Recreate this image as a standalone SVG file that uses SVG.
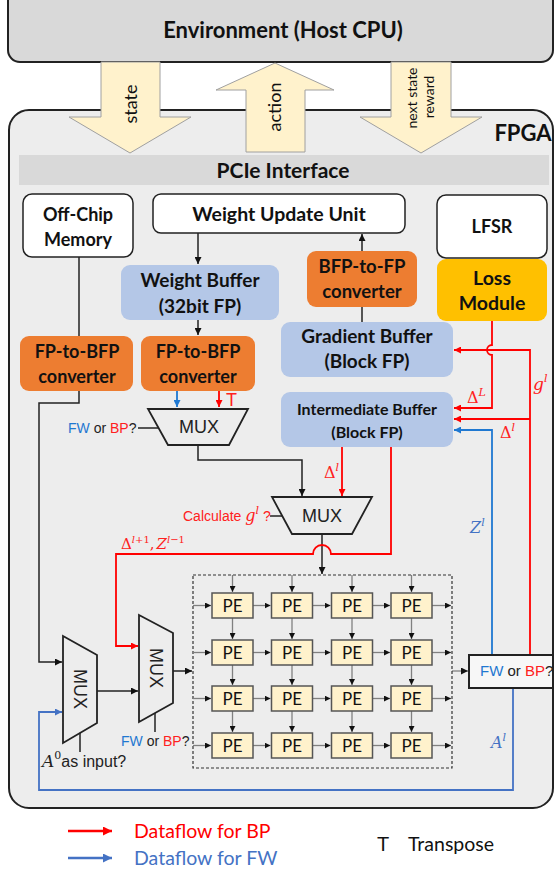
<svg xmlns="http://www.w3.org/2000/svg" width="554" height="873" viewBox="0 0 554 873">
<style>
.b{font-family:Lato,"Liberation Sans",sans-serif;font-weight:bold;fill:#111;text-anchor:middle}
.c{font-family:Lato,"Liberation Sans",sans-serif;fill:#111}
.a{font-family:"Liberation Sans",Arial,sans-serif;fill:#222}
.m{font-family:"DejaVu Serif","Liberation Serif",serif;font-style:italic}
.u{font-family:"DejaVu Serif","Liberation Serif",serif;font-style:normal}
.bk{fill:none;stroke:#222;stroke-width:1.5}
.rd{fill:none;stroke:#ff0000;stroke-width:1.8}
.bl{fill:none;stroke:#1f78d1;stroke-width:1.8}
.bl2{fill:none;stroke:#4472c4;stroke-width:1.8}
.gr{fill:none;stroke:#808080;stroke-width:1.3}
.mux{fill:none;stroke:#222;stroke-width:1.8}
.pe{fill:#fff2cc;stroke:#555;stroke-width:1.5}
.big{fill:#fff2cc;stroke:#a0a0a0;stroke-width:1}
.R{fill:#ff2020}.B{fill:#1f78d1}
</style>
<defs>
<marker id="ak" viewBox="0 0 8 8" refX="8" refY="4" markerWidth="7" markerHeight="7" markerUnits="userSpaceOnUse" orient="auto"><path d="M0,0L8,4L0,8z" fill="#111"/></marker>
<marker id="ar" viewBox="0 0 8 8" refX="8" refY="4" markerWidth="7" markerHeight="7" markerUnits="userSpaceOnUse" orient="auto"><path d="M0,0L8,4L0,8z" fill="#ff0000"/></marker>
<marker id="ab" viewBox="0 0 8 8" refX="8" refY="4" markerWidth="7" markerHeight="7" markerUnits="userSpaceOnUse" orient="auto"><path d="M0,0L8,4L0,8z" fill="#1f78d1"/></marker>
<marker id="ab2" viewBox="0 0 8 8" refX="8" refY="4" markerWidth="7" markerHeight="7" markerUnits="userSpaceOnUse" orient="auto"><path d="M0,0L8,4L0,8z" fill="#4472c4"/></marker>
<marker id="ag" viewBox="0 0 8 8" refX="8" refY="4" markerWidth="6" markerHeight="6" markerUnits="userSpaceOnUse" orient="auto"><path d="M0,0L8,4L0,8z" fill="#111"/></marker>
<marker id="lr" viewBox="0 0 8 8" refX="8" refY="4" markerWidth="9" markerHeight="9" markerUnits="userSpaceOnUse" orient="auto"><path d="M0,0L8,4L0,8z" fill="#ff0000"/></marker>
<marker id="lb" viewBox="0 0 8 8" refX="8" refY="4" markerWidth="9" markerHeight="9" markerUnits="userSpaceOnUse" orient="auto"><path d="M0,0L8,4L0,8z" fill="#4472c4"/></marker>
</defs>
<rect width="554" height="873" fill="#ffffff"/>

<g id="env">
<rect x="8" y="-20" width="545" height="82" rx="12" fill="#d9d9d9" stroke="#222" stroke-width="2"/>
<text class="b" x="283" y="38" font-size="22">Environment (Host CPU)</text>
</g>

<g id="fpga">
<rect x="9" y="110" width="544" height="698" rx="20" fill="#ededed" stroke="#222" stroke-width="2"/>
<text class="b" x="523" y="141" font-size="22">FPGA</text>
</g>

<g id="arrow-state">
<path class="big" d="M101,62H160V117H191L130,153L69,117H101Z"/>
<text class="c" font-size="18" text-anchor="middle" transform="translate(137,104) rotate(-90)">state</text>
</g>
<g id="arrow-action">
<path class="big" d="M246,152V90H216L275,63L334,90H305V152Z"/>
<text class="c" font-size="18" text-anchor="middle" transform="translate(281,107) rotate(-90)">action</text>
</g>
<g id="arrow-next">
<path class="big" d="M391,62H451V117H482L421,153L360,117H391Z"/>
<text class="c" font-size="14" text-anchor="middle" transform="translate(417,98) rotate(-90)">next state</text>
<text class="c" font-size="14" text-anchor="middle" transform="translate(434,97) rotate(-90)">reward</text>
</g>

<g id="pcie">
<rect x="19" y="155" width="530" height="30" fill="#d9d9d9"/>
<text class="b" x="283" y="178" font-size="21">PCIe Interface</text>
</g>

<g id="connectors">
<path class="bk" d="M79,257V336"/>
<path class="bk" d="M79,391V403H39V662H62" marker-end="url(#ak)"/>
<path class="bk" d="M198,233V264" marker-end="url(#ak)"/>
<path class="bk" d="M198,320V335" marker-end="url(#ak)"/>
<path class="bk" d="M362,322V234" marker-end="url(#ak)"/>
<path class="bk" d="M138,428H159"/>
<path class="bk" d="M198,445V460H302V496" marker-end="url(#ak)"/>
<path class="bk" d="M270,516H282"/>
<path class="bk" d="M322,534V574" marker-end="url(#ak)"/>
<path class="bk" d="M97,691H138" marker-end="url(#ak)"/>
<path class="bk" d="M173,671H192" marker-end="url(#ak)"/>
<path class="bk" d="M155,713V732"/>
<path class="bk" d="M80,733V752"/>
<path class="gr" d="M452,671H468" marker-end="url(#ak)"/>
<path class="bl" d="M177,391V407" marker-end="url(#ab)"/>
<path class="rd" d="M219,391V407" marker-end="url(#ar)"/>
<path class="rd" d="M342,447V496" marker-end="url(#ar)"/>
<path class="rd" d="M391,447V554H331A9,9 0 0 0 313,554H116V646H138" marker-end="url(#ar)"/>
<path class="rd" d="M530,655V350H454" marker-end="url(#ar)"/>
<path class="rd" d="M530,419H454" marker-end="url(#ar)"/>
<path class="rd" d="M492,321V345A5,5 0 0 0 492,355V408H454" marker-end="url(#ar)"/>
<path class="bl" d="M492,655V430H454" marker-end="url(#ab)"/>
<path class="bl2" d="M513,688V790H39V712H62" marker-end="url(#ab2)"/>
</g>

<g id="labels">
<text class="a" x="68" y="433" font-size="14"><tspan class="B">FW</tspan> or <tspan class="R">BP</tspan>?</text>
<text class="a R" x="226" y="406" font-size="18">T</text>
<text class="a R" x="183" y="521" font-size="14">Calculate <tspan class="m" font-size="16">g</tspan><tspan class="m" font-size="11" dy="-7">l</tspan><tspan dy="7"> ?</tspan></text>
<text class="R" x="324" y="478" font-size="16"><tspan class="u">Δ</tspan><tspan class="m" font-size="11" dy="-7">l</tspan></text>
<text class="R" x="121" y="549" font-size="15"><tspan class="u">Δ</tspan><tspan class="m" font-size="10" dy="-6">l</tspan><tspan class="u" font-size="10">+1</tspan><tspan class="u" dy="6">,</tspan><tspan class="m" dx="2">Z</tspan><tspan class="m" font-size="10" dy="-6">l</tspan><tspan class="u" font-size="10">−1</tspan></text>
<text class="R" x="467" y="403" font-size="16"><tspan class="u">Δ</tspan><tspan class="m" font-size="11" dy="-7">L</tspan></text>
<text class="R" x="533" y="390" font-size="17"><tspan class="m">g</tspan><tspan class="m" font-size="11" dy="-8">l</tspan></text>
<text class="R" x="500" y="438" font-size="16"><tspan class="u">Δ</tspan><tspan class="m" font-size="11" dy="-7">l</tspan></text>
<text fill="#4472c4" x="470" y="533" font-size="16"><tspan class="m">Z</tspan><tspan class="m" font-size="11" dy="-7">l</tspan></text>
<text fill="#4472c4" x="491" y="748" font-size="16"><tspan class="m">A</tspan><tspan class="m" font-size="11" dy="-7">l</tspan></text>
<text class="a" x="121" y="746" font-size="14"><tspan class="B">FW</tspan> or <tspan class="R">BP</tspan>?</text>
<text class="a" x="42" y="767" font-size="16"><tspan class="m" font-size="17">A</tspan><tspan class="u" font-size="11" dy="-8">0</tspan><tspan dy="8">as input?</tspan></text>
</g>

<g id="offchip">
<rect x="23" y="194" width="110" height="63" rx="9" fill="#fff" stroke="#222" stroke-width="1.5"/>
<text class="b" x="78" y="221" font-size="18">Off-Chip</text>
<text class="b" x="78" y="246" font-size="18">Memory</text>
</g>
<g id="wuu">
<rect x="153" y="194" width="252" height="39" rx="8" fill="#fff" stroke="#222" stroke-width="1.5"/>
<text class="b" x="279" y="221" font-size="19.5">Weight Update Unit</text>
</g>
<g id="lfsr">
<rect x="437" y="195" width="110" height="63" rx="9" fill="#fff" stroke="#222" stroke-width="1.5"/>
<text class="b" x="492" y="233" font-size="18">LFSR</text>
</g>
<g id="loss">
<rect x="437" y="259" width="110" height="62" rx="9" fill="#ffc000"/>
<text class="b" x="492" y="285" font-size="19.5">Loss</text>
<text class="b" x="492" y="310" font-size="19.5">Module</text>
</g>
<g id="wbuf">
<rect x="121" y="265" width="158" height="55" rx="9" fill="#b4c7e7"/>
<text class="b" x="200" y="287" font-size="19">Weight Buffer</text>
<text class="b" x="200" y="313" font-size="19">(32bit FP)</text>
</g>
<g id="bfp2fp">
<rect x="307" y="251" width="110" height="56" rx="9" fill="#ed7d31"/>
<text class="b" x="362" y="273" font-size="18.5">BFP-to-FP</text>
<text class="b" x="362" y="298" font-size="18.5">converter</text>
</g>
<g id="gbuf">
<rect x="281" y="322" width="172" height="55" rx="9" fill="#b4c7e7"/>
<text class="b" x="367" y="343" font-size="19">Gradient Buffer</text>
<text class="b" x="367" y="368" font-size="19">(Block FP)</text>
</g>
<g id="ibuf">
<rect x="281" y="392" width="172" height="55" rx="9" fill="#b4c7e7"/>
<text class="b" x="367" y="415" font-size="16">Intermediate Buffer</text>
<text class="b" x="367" y="438" font-size="16">(Block FP)</text>
</g>
<g id="fp2bfp1">
<rect x="20" y="336" width="113" height="55" rx="9" fill="#ed7d31"/>
<text class="b" x="77" y="358" font-size="18">FP-to-BFP</text>
<text class="b" x="77" y="383" font-size="18">converter</text>
</g>
<g id="fp2bfp2">
<rect x="141" y="336" width="114" height="55" rx="9" fill="#ed7d31"/>
<text class="b" x="198" y="358" font-size="18">FP-to-BFP</text>
<text class="b" x="198" y="383" font-size="18">converter</text>
</g>

<g id="muxA">
<path class="mux" d="M148,409H248L229,445H168Z"/>
<text class="a" x="199" y="433" font-size="18" text-anchor="middle">MUX</text>
</g>
<g id="muxB">
<path class="mux" d="M272,497H372L352,534H292Z"/>
<text class="a" x="322" y="522" font-size="18" text-anchor="middle">MUX</text>
</g>
<g id="muxC">
<path class="mux" d="M139,615L173,633V703L139,722Z"/>
<text class="a" font-size="18" text-anchor="middle" transform="translate(150,668) rotate(90)">MUX</text>
</g>
<g id="muxD">
<path class="mux" d="M63,636L97,655V723L63,743Z"/>
<text class="a" font-size="18" text-anchor="middle" transform="translate(74,689) rotate(90)">MUX</text>
</g>

<g id="fwbp">
<rect x="469" y="655" width="84" height="33" fill="#f7f7f7" stroke="#222" stroke-width="2"/>
<text class="a" x="480" y="676" font-size="15"><tspan class="B">FW</tspan> or <tspan class="R">BP</tspan>?</text>
</g>

<g id="pe-array">
<rect x="193" y="575" width="259" height="193" fill="none" stroke="#333" stroke-width="1.2" stroke-dasharray="3,2"/>
<g class="gr">
<path d="M232.5,575V592" marker-end="url(#ag)"/><path d="M292,575V592" marker-end="url(#ag)"/><path d="M352,575V592" marker-end="url(#ag)"/><path d="M411.5,575V592" marker-end="url(#ag)"/>
<path d="M232.5,618V639" marker-end="url(#ag)"/><path d="M292,618V639" marker-end="url(#ag)"/><path d="M352,618V639" marker-end="url(#ag)"/><path d="M411.5,618V639" marker-end="url(#ag)"/>
<path d="M232.5,665V685" marker-end="url(#ag)"/><path d="M292,665V685" marker-end="url(#ag)"/><path d="M352,665V685" marker-end="url(#ag)"/><path d="M411.5,665V685" marker-end="url(#ag)"/>
<path d="M232.5,711V732" marker-end="url(#ag)"/><path d="M292,711V732" marker-end="url(#ag)"/><path d="M352,711V732" marker-end="url(#ag)"/><path d="M411.5,711V732" marker-end="url(#ag)"/>
<path d="M193,605.5H211" marker-end="url(#ag)"/><path d="M253,605.5H270.5" marker-end="url(#ag)"/><path d="M312.5,605.5H330.5" marker-end="url(#ag)"/><path d="M372.5,605.5H390" marker-end="url(#ag)"/><path d="M432,605.5H451" marker-end="url(#ag)"/>
<path d="M193,652.5H211" marker-end="url(#ag)"/><path d="M253,652.5H270.5" marker-end="url(#ag)"/><path d="M312.5,652.5H330.5" marker-end="url(#ag)"/><path d="M372.5,652.5H390" marker-end="url(#ag)"/><path d="M432,652.5H451" marker-end="url(#ag)"/>
<path d="M193,698.5H211" marker-end="url(#ag)"/><path d="M253,698.5H270.5" marker-end="url(#ag)"/><path d="M312.5,698.5H330.5" marker-end="url(#ag)"/><path d="M372.5,698.5H390" marker-end="url(#ag)"/><path d="M432,698.5H451" marker-end="url(#ag)"/>
<path d="M193,745.5H211" marker-end="url(#ag)"/><path d="M253,745.5H270.5" marker-end="url(#ag)"/><path d="M312.5,745.5H330.5" marker-end="url(#ag)"/><path d="M372.5,745.5H390" marker-end="url(#ag)"/><path d="M432,745.5H451" marker-end="url(#ag)"/>
</g>
<g id="pe-cells" font-size="17">
<rect class="pe" x="212" y="593" width="41" height="25"/><rect class="pe" x="271.5" y="593" width="41" height="25"/><rect class="pe" x="331.5" y="593" width="41" height="25"/><rect class="pe" x="391" y="593" width="41" height="25"/>
<rect class="pe" x="212" y="640" width="41" height="25"/><rect class="pe" x="271.5" y="640" width="41" height="25"/><rect class="pe" x="331.5" y="640" width="41" height="25"/><rect class="pe" x="391" y="640" width="41" height="25"/>
<rect class="pe" x="212" y="686" width="41" height="25"/><rect class="pe" x="271.5" y="686" width="41" height="25"/><rect class="pe" x="331.5" y="686" width="41" height="25"/><rect class="pe" x="391" y="686" width="41" height="25"/>
<rect class="pe" x="212" y="733" width="41" height="25"/><rect class="pe" x="271.5" y="733" width="41" height="25"/><rect class="pe" x="331.5" y="733" width="41" height="25"/><rect class="pe" x="391" y="733" width="41" height="25"/>
<g class="c" text-anchor="middle">
<text x="232.5" y="612">PE</text><text x="292" y="612">PE</text><text x="352" y="612">PE</text><text x="411.5" y="612">PE</text>
<text x="232.5" y="659">PE</text><text x="292" y="659">PE</text><text x="352" y="659">PE</text><text x="411.5" y="659">PE</text>
<text x="232.5" y="705">PE</text><text x="292" y="705">PE</text><text x="352" y="705">PE</text><text x="411.5" y="705">PE</text>
<text x="232.5" y="752">PE</text><text x="292" y="752">PE</text><text x="352" y="752">PE</text><text x="411.5" y="752">PE</text>
</g>
</g>
</g>

<g id="legend">
<path d="M68,831H112" stroke="#ff0000" stroke-width="2.5" marker-end="url(#lr)"/>
<path d="M68,858H112" stroke="#4472c4" stroke-width="2.5" marker-end="url(#lb)"/>
<text class="c" x="134" y="838" font-size="19.5" style="fill:#ff0000">Dataflow for BP</text>
<text class="c" x="134" y="865" font-size="19.5" style="fill:#4472c4">Dataflow for FW</text>
<text class="a" x="377" y="851" font-size="20" style="fill:#111">T</text>
<text class="c" x="408" y="851" font-size="19.5">Transpose</text>
</g>
</svg>
